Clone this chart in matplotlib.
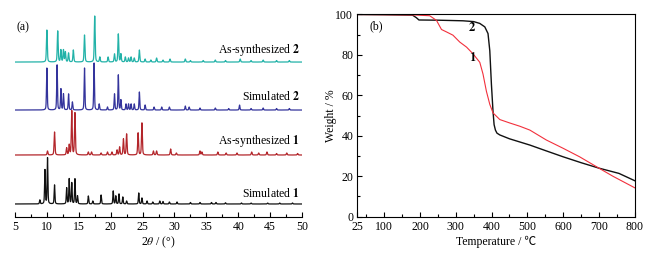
import numpy as np
import matplotlib
matplotlib.use("Agg")
import matplotlib.pyplot as plt
from matplotlib.ticker import MultipleLocator, FixedLocator

plt.rcParams['font.family'] = ['Liberation Serif', 'Noto Sans CJK SC', 'DejaVu Serif']
plt.rcParams['mathtext.fontset'] = 'stix'

# ---------------- PXRD data (peak positions in 2theta, heights in arbitrary units) -------------
sim1_pos = [8.9, 9.7, 10.1, 11.2, 13.1, 13.5, 13.9, 14.4, 14.8, 16.5, 17.2, 18.5, 20.4, 20.8, 21.3,
            21.9, 22.5, 24.4, 24.9, 25.7, 26.6, 27.7, 28.2, 29.2, 30.4, 32.5, 34.0, 35.8, 36.5,
            38.0, 40.5, 42.0, 44.6, 46.5, 48.5]
sim1_h = [4, 34, 46, 19, 16, 25, 21, 25, 8, 8, 3, 9, 13, 8, 10, 7, 3, 11, 6, 3, 2, 3, 2.5, 2, 2,
          1.5, 1.5, 1.5, 1.5, 1.2, 1, 1, 1, 1, 1]

asyn1_pos = [10.1, 11.2, 13.1, 13.5, 13.9, 14.4, 16.5, 17.0, 18.5, 19.5, 20.2, 21.0, 21.4, 22.0,
             22.5, 24.3, 24.9, 26.7, 27.2, 29.4, 30.3, 34.0, 34.3, 36.8, 38.1, 39.8, 42.1, 43.2,
             44.5, 46.0, 47.6, 49.3]
asyn1_h = [4, 23, 7, 10, 44, 42, 3, 3, 2, 3, 3, 5, 8, 16, 21, 22, 32, 4, 4, 6, 2, 4, 3, 3, 2, 2,
           3, 2, 3, 1.5, 2, 1.5]

sim2_pos = [10.0, 11.6, 12.2, 12.6, 13.4, 14.0, 15.9, 17.4, 18.2, 19.5, 20.6, 21.2, 21.6, 22.4,
            22.8, 23.2, 23.7, 24.5, 25.4, 26.8, 28.0, 29.2, 31.7, 32.3, 34.0, 36.4, 38.5, 40.2,
            42.0, 43.9, 46.0, 48.0]
sim2_h = [42, 45, 21, 16, 16, 8, 42, 47, 6, 3, 16, 35, 10, 6, 6, 6, 6, 18, 5, 3, 3, 3, 4, 3, 2, 2,
          1.5, 5, 1.5, 2, 1.5, 1.5]

asyn2_pos = [10.0, 11.7, 12.2, 12.6, 12.9, 13.4, 14.15, 15.9, 17.5, 18.3, 19.6, 20.6, 21.2, 21.6,
             22.3, 22.8, 23.2, 23.7, 24.5, 25.4, 26.3, 27.2, 28.2, 29.3, 31.7, 32.5, 34.5, 36.4,
             38.0, 40.3, 42.0, 43.9, 46.0, 48.0]
asyn2_h = [32, 31, 12, 12, 10, 9, 12, 27, 46, 5, 5, 8, 28, 8, 5, 4, 5, 4, 12, 3, 2, 4, 2, 3, 3,
           1.5, 1.5, 2, 1.5, 3, 1.5, 2, 1.5, 1.5]

pxrd_labels = ["Simulated", "As-synthesized", "Simulated", "As-synthesized"]
pxrd_ids = ["1", "1", "2", "2"]

# ---------------- TGA data ----------------
t2 = [25, 100, 179, 190, 197, 250, 320, 350, 367, 381, 390, 395, 399.5, 404, 407, 410.7, 415,
      423, 450, 507, 550, 600, 650, 700, 756, 800]
w2 = [99.9, 99.8, 99.6, 98.3, 97.2, 97.1, 96.8, 96.4, 95.5, 93.8, 90.5, 82, 65.5, 52, 45.5, 42.8,
      41.3, 40.4, 38.5, 35.4, 32.7, 29.6, 26.7, 24, 21.4, 17.8]
t1 = [25, 100, 180, 227, 246, 260, 274, 292, 311, 330, 348, 367, 376, 385.5, 395, 404, 423, 451,
      479, 507, 553, 600, 646, 700, 739, 800]
w1 = [99.9, 99.8, 99.7, 99.3, 97, 92.5, 91.3, 89.7, 86.3, 83.8, 80.5, 76.3, 70.5, 62, 55.5, 51.3,
      48, 46.3, 44.7, 42.8, 37.9, 33.8, 29.6, 24, 20, 14.3]

# ---------------- figure ----------------
fig = plt.figure(figsize=(6.51, 2.58), dpi=100)

# Panel (a)
axa = fig.add_axes([0.023, 0.159, 0.441, 0.802])
x = np.arange(5, 50.001, 0.01)


def pattern(pos, h, w):
    y = np.zeros_like(x)
    for p, a in zip(pos, h):
        g = np.exp(-4 * np.log(2) * ((x - p) / w) ** 2)
        l = 1.0 / (1 + 4 * ((x - p) / w) ** 2)
        y += a * (0.6 * g + 0.4 * l)
    return y


offsets = [13, 62, 107, 155]
colors = ["#111111", "#b3262b", "#34349c", "#22b2a8"]
series = [(sim1_pos, sim1_h, 0.14), (asyn1_pos, asyn1_h, 0.16),
          (sim2_pos, sim2_h, 0.14), (asyn2_pos, asyn2_h, 0.16)]
label_dy = [10, 14, 14, 12]
for (pos, h, w), off, c, lab, pid, dy in zip(series, offsets, colors, pxrd_labels, pxrd_ids, label_dy):
    axa.plot(x, pattern(pos, h, w) + off, color=c, lw=0.9)
    axa.text(49.7, off + dy, lab + " " + r"$\mathbf{" + pid + "}$", ha='right', va='center',
             fontsize=8.5)

axa.set_xlim(5, 50)
axa.set_ylim(0, 207)
for s in ['top', 'left', 'right']:
    axa.spines[s].set_visible(False)
axa.spines['bottom'].set_linewidth(0.8)
axa.set_yticks([])
axa.xaxis.set_major_locator(MultipleLocator(5))
axa.xaxis.set_minor_locator(MultipleLocator(2.5))
axa.tick_params(axis='x', which='major', direction='in', length=3.5, width=0.8, labelsize=8.5, pad=3)
axa.tick_params(axis='x', which='minor', direction='in', length=2, width=0.8)
axa.set_xlabel(r"2$\it{\theta}$ / (°)", fontsize=8.5, labelpad=1)
axa.text(5.3, 190, "(a)", fontsize=8.5, va='center')

# Panel (b)
axb = fig.add_axes([0.549, 0.160, 0.426, 0.7845])
axb.plot(t2, w2, color="#111111", lw=1.0)
axb.plot(t1, w1, color="#f2303c", lw=0.8)
axb.set_xlim(25, 800)
axb.set_ylim(0, 100)
axb.xaxis.set_major_locator(FixedLocator([25, 100, 200, 300, 400, 500, 600, 700, 800]))
axb.xaxis.set_minor_locator(FixedLocator([50, 150, 250, 350, 450, 550, 650, 750]))
axb.yaxis.set_major_locator(MultipleLocator(20))
axb.yaxis.set_minor_locator(MultipleLocator(10))
axb.tick_params(which='major', direction='in', length=3.5, width=0.8, labelsize=8.5, pad=3)
axb.tick_params(which='minor', direction='in', length=2, width=0.8)
for s in axb.spines.values():
    s.set_linewidth(0.8)
axb.set_xlabel("Temperature / ℃", fontsize=8.5, labelpad=2)
axb.set_ylabel("Weight / %", fontsize=8.5, labelpad=-1)
axb.text(58, 94, "(b)", fontsize=8.5, va='center')
axb.text(335, 93.5, r"$\mathbf{2}$", fontsize=9, va='center')
axb.text(337, 78.5, r"$\mathbf{1}$", fontsize=9, va='center')

fig.savefig("out.png", dpi=100)
